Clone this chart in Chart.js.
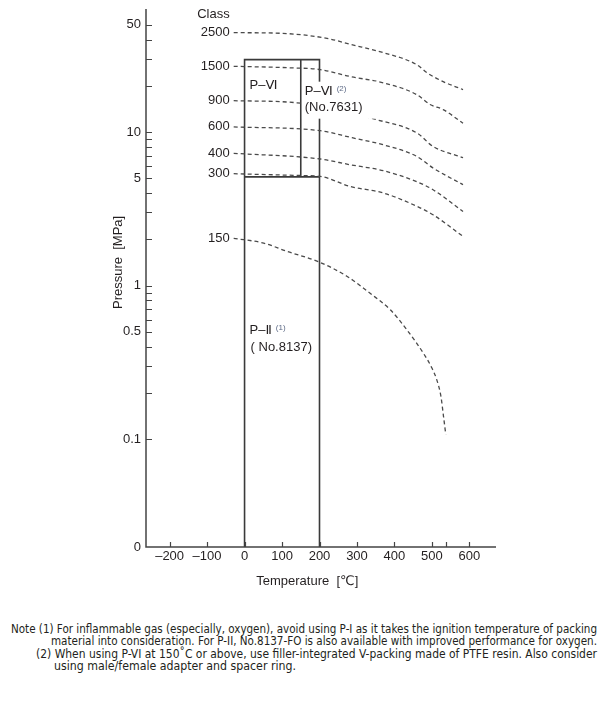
<!DOCTYPE html>
<html>
<head>
<meta charset="utf-8">
<script src="https://cdn.jsdelivr.net/npm/chart.js@4.4.1/dist/chart.umd.min.js"></script>
<style>
  html, body { margin:0; padding:0; background:#fff; }
  body { width:600px; height:723px; position:relative; overflow:hidden; }
  #wrap { position:absolute; left:0; top:0; width:600px; height:600px; }
  .nl { position:absolute; white-space:nowrap; font-family:"Liberation Sans Narrow","DejaVu Sans Condensed","Liberation Sans",sans-serif; font-size:12.5px; line-height:13px; color:#231f20; transform-origin:0 50%; }
</style>
</head>
<body>
<div id="wrap"><canvas id="c" width="600" height="600"></canvas></div>
<div class="nl" style="left:11px;top:622px" data-w="586">Note (1) For inflammable gas (especially, oxygen), avoid using P-I as it takes the ignition temperature of packing</div>
<div class="nl" style="left:51px;top:634px" data-w="546">material into consideration. For P-II, No.8137-FO is also available with improved performance for oxygen.</div>
<div class="nl" style="left:35.5px;top:647px" data-w="561">(2) When using P-VI at 150˚C or above, use filler-integrated V-packing made of PTFE resin. Also consider</div>
<div class="nl" style="left:54px;top:659px" data-w="242">using male/female adapter and spacer ring.</div>
<script>
// ---------- data ----------
const classNames = ["2500", "1500", "900", "600", "400", "300", "150"];
const temps2500 = [-29, 95, 175, 229, 282, 370, 460, 487, 530, 583];
const press2500 = [44.4, 44.0, 42.4, 40.3, 37.3, 32.9, 27.4, 24.3, 21.3, 18.9];
const temps1500 = [-29, 122, 202, 282, 370, 460, 495, 530, 583];
const press1500 = [26.8, 26.2, 25.5, 23.0, 20.9, 17.5, 15.1, 14.0, 11.4];
const temps900 = [-29, 140, 354, 460, 503, 583];
const press900 = [16.0, 15.5, 12.0, 9.85, 8.06, 6.8];
const temps600 = [-29, 202, 287, 370, 460, 503, 583];
const press600 = [10.8, 10.2, 9.18, 8.26, 6.93, 5.83, 4.54];
const temps400 = [-29, 202, 282, 370, 460, 503, 583];
const press400 = [7.27, 6.67, 6.12, 5.60, 4.74, 4.21, 3.04];
const temps300 = [-29, 149, 202, 282, 370, 460, 503, 583];
const press300 = [5.35, 5.21, 5.14, 4.42, 4.01, 3.28, 2.89, 2.09];
const temps150 = [-29, 51, 113, 200, 273, 335, 389, 433, 477, 500, 513, 524, 531, 537];
const press150 = [2.03, 1.89, 1.67, 1.42, 1.15, 0.89, 0.695, 0.515, 0.363, 0.29, 0.243, 0.19, 0.140, 0.107];

// packing regions
const regionTemps = [0, 150, 200];      // P-VI low limit, P-VI upper limit (std), P-VI(2)/P-II upper limit
const regionPress = [5.1, 29.6];        // P-II upper pressure, P-VI upper pressure

// axes
const xMin = -263, xMax = 671;
const yMin = 0.0198, yMax = 63.3;
const xTickValues = [-200, -100, 0, 100, 200, 300, 400, 500, 537, 600];
const xTickLabels = ["\u2013200", "\u2013100", "0", "100", "200", "300", "400", "500", "", "600"];
const yTickValues = [yMin, 0.1, 0.2, 0.3, 0.4, 0.5, 0.6, 0.7, 0.8, 0.9, 1, 2, 3, 4, 5, 6, 7, 8, 9, 10, 20, 30, 40, 50];
const yTickLabelled = { 0.1: "0.1", 0.5: "0.5", 1: "1", 5: "5", 10: "10", 50: "50" };

// ---------- build ----------
const zip = (xs, ys) => xs.map((v, i) => ({ x: v, y: ys[i] }));
const curveSets = [
  zip(temps2500, press2500), zip(temps1500, press1500), zip(temps900, press900),
  zip(temps600, press600), zip(temps400, press400), zip(temps300, press300), zip(temps150, press150)
];
const INK = '#231f20';
const datasets = curveSets.map((d, i) => ({
  label: classNames[i], data: d, showLine: true, pointRadius: 0, borderColor: '#4a4a4a',
  borderWidth: 1.3, borderDash: [4, 3], cubicInterpolationMode: 'monotone', fill: false
}));
const [t0, t150, t200] = regionTemps;
const [p5, p30] = regionPress;
const boxStyle = { showLine: true, pointRadius: 0, borderColor: '#3a3a3a', borderWidth: 1.6, fill: false, tension: 0 };
datasets.push(Object.assign({ label: 'outline', data: [{x:t0,y:yMin},{x:t0,y:p30},{x:t200,y:p30},{x:t200,y:yMin}] }, boxStyle));
datasets.push(Object.assign({ label: 'P-II top', data: [{x:t0,y:p5},{x:t200,y:p5}] }, boxStyle));
datasets.push(Object.assign({ label: 'P-VI split', data: [{x:t150,y:p5},{x:t150,y:p30}] }, boxStyle));

const FONT = '"Liberation Sans", Arial, "DejaVu Sans", sans-serif';

const overlay = {
  id: 'overlay',
  afterDatasetsDraw(chart) {
    const { ctx, scales: { x, y } } = chart;
    ctx.save();
    // label background for P-VI(2)
    const x150 = x.getPixelForValue(t150);
    const yTop = y.getPixelForValue(p30);
    ctx.fillStyle = '#fff';
    ctx.fillRect(x150 + 1.2, yTop + 22, 75, 37);
    ctx.fillStyle = INK;
    ctx.textBaseline = 'middle';
    ctx.textAlign = 'left';
    ctx.font = '13px ' + FONT;
    const x0 = x.getPixelForValue(t0);
    ctx.fillText('P\u2013\u2165', x0 + 5, yTop + 26);
    ctx.fillText('P\u2013\u2165', x150 + 4, yTop + 32);
    let w = ctx.measureText('P\u2013\u2165').width;
    ctx.fillText('(No.7631)', x150 + 4, yTop + 48);
    ctx.fillStyle = '#5d6a86';
    ctx.font = '8px ' + FONT;
    ctx.fillText('(2)', x150 + 4 + w + 4, yTop + 29);
    // P-II label
    const y5 = y.getPixelForValue(p5);
    ctx.fillStyle = INK;
    ctx.font = '13px ' + FONT;
    ctx.fillText('P\u2013\u2161', x0 + 5, y5 + 154);
    w = ctx.measureText('P\u2013\u2161').width;
    ctx.fillText('( No.8137)', x0 + 6, y5 + 171);
    ctx.fillStyle = '#5d6a86';
    ctx.font = '8px ' + FONT;
    ctx.fillText('(1)', x0 + 5 + w + 4, y5 + 151);
    // class labels
    ctx.fillStyle = INK;
    ctx.font = '13px ' + FONT;
    ctx.textAlign = 'right';
    curveSets.forEach((d, i) => {
      const px = x.getPixelForValue(d[0].x) - 4;
      const py = y.getPixelForValue(d[0].y);
      ctx.fillText(classNames[i], px, py);
    });
    const py0 = y.getPixelForValue(curveSets[0][0].y);
    ctx.fillText('Class', x.getPixelForValue(curveSets[0][0].x) - 4, py0 - 18);
    ctx.restore();
  },
  afterDraw(chart) {
    const { ctx, scales: { x, y }, chartArea: a } = chart;
    ctx.save();
    ctx.strokeStyle = '#444';
    ctx.lineWidth = 1.5;
    ctx.beginPath();
    ctx.moveTo(a.left, a.top); ctx.lineTo(a.left, a.bottom); ctx.lineTo(a.right, a.bottom);
    ctx.stroke();
    ctx.lineWidth = 1.2;
    ctx.beginPath();
    yTickValues.forEach(v => {
      if (v === yMin) return;
      const py = Math.round(y.getPixelForValue(v)) + 0.5;
      ctx.moveTo(a.left, py); ctx.lineTo(a.left + 6, py);
    });
    xTickValues.forEach(v => {
      const px = Math.round(x.getPixelForValue(v)) + 0.5;
      ctx.moveTo(px, a.bottom); ctx.lineTo(px, a.bottom - 5);
    });
    ctx.stroke();
    // axis titles
    ctx.fillStyle = INK;
    ctx.font = '13px ' + FONT;
    ctx.textAlign = 'center';
    ctx.textBaseline = 'middle';
    ctx.fillText('Temperature  [\u2103]', (x.getPixelForValue(200) + x.getPixelForValue(300)) / 2 - 31, a.bottom + 34);
    ctx.translate(118, (y.getPixelForValue(1) + y.getPixelForValue(2)) / 2 - 0);
    ctx.rotate(-Math.PI / 2);
    ctx.fillText('Pressure  [MPa]', 0, 0);
    ctx.restore();
  }
};

new Chart(document.getElementById('c'), {
  type: 'scatter',
  data: { datasets },
  options: {
    responsive: false,
    animation: false,
    events: [],
    layout: { padding: { top: 9, right: 104, left: 0, bottom: 0 } },
    plugins: { legend: { display: false }, tooltip: { enabled: false }, title: { display: false } },
    scales: {
      x: {
        type: 'linear', min: xMin, max: xMax,
        grid: { display: false, drawTicks: false }, border: { display: false },
        afterBuildTicks: s => { s.ticks = xTickValues.map(v => ({ value: v })); },
        afterFit: s => { s.height = 53; s.paddingLeft = 0; s.paddingRight = 0; },
        ticks: {
          autoSkip: false, maxRotation: 0, padding: 2, color: INK, font: { family: FONT, size: 13 },
          callback: (v) => { const i = xTickValues.indexOf(v); return i >= 0 ? xTickLabels[i] : ''; }
        }
      },
      y: {
        type: 'logarithmic', min: yMin, max: yMax,
        grid: { display: false, drawTicks: false }, border: { display: false },
        afterBuildTicks: s => { s.ticks = yTickValues.map(v => ({ value: v })); },
        afterFit: s => { s.width = 146; s.paddingTop = 0; s.paddingBottom = 0; },
        ticks: {
          autoSkip: false, padding: 5, color: INK, font: { family: FONT, size: 13 },
          callback: (v) => v === yMin ? '0' : (yTickLabelled[v] !== undefined ? yTickLabelled[v] : '')
        }
      }
    }
  },
  plugins: [overlay]
});

// fit note lines to their widths
document.querySelectorAll('.nl').forEach(el => {
  const w = el.getBoundingClientRect().width;
  el.style.transform = 'scaleX(' + (parseFloat(el.dataset.w) / w) + ')';
});
</script>
</body>
</html>
